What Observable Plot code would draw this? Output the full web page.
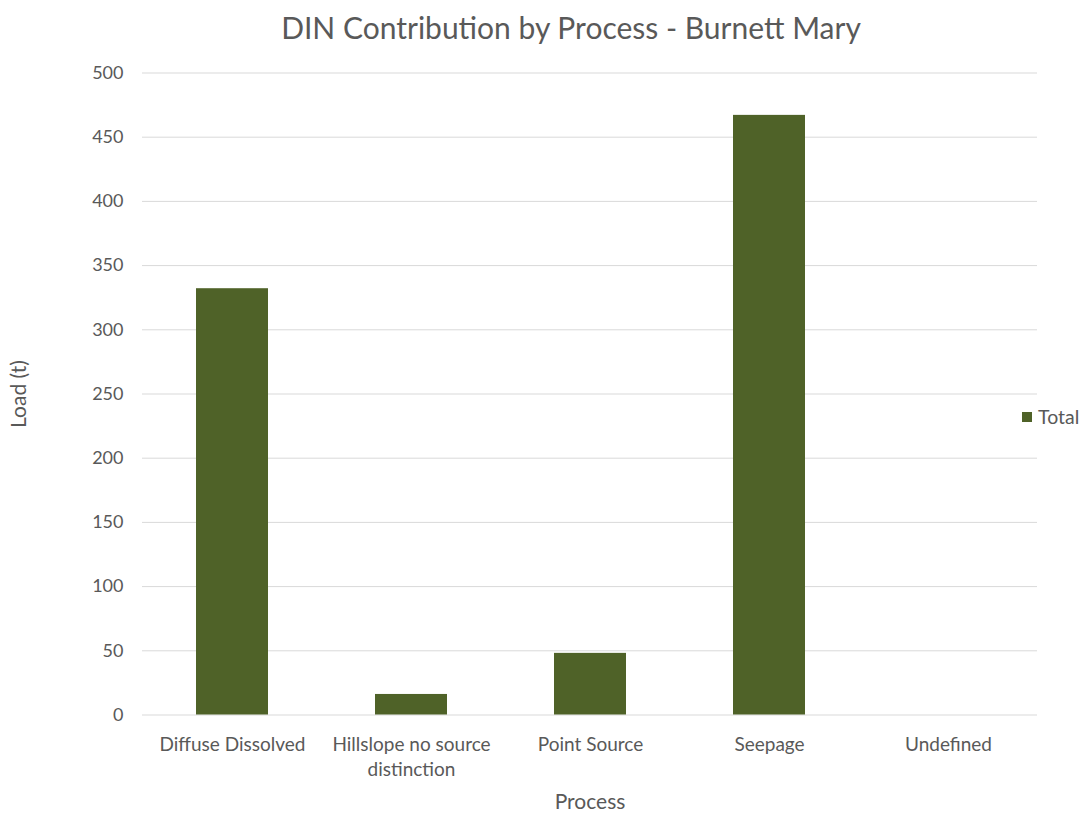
<!DOCTYPE html>
<html>
<head>
<meta charset="utf-8">
<script src="https://cdn.jsdelivr.net/npm/d3@7"></script>
<script src="https://cdn.jsdelivr.net/npm/@observablehq/plot@0.6"></script>
<style>
  html, body { margin: 0; padding: 0; background: #ffffff; }
  #chart { position: relative; width: 1088px; height: 815px; font-family: Lato, "Open Sans", sans-serif; color: #595959; }
  #title { position: relative; left: 27px; height: 55px; line-height: 55px; text-align: center; font-size: 30px; color: #595959; }
  #legend { position: absolute; left: 1022px; top: 405px; display: flex; align-items: center; font-size: 19.5px; color: #595959; }
  #legend .swatch { width: 10px; height: 10px; margin-right: 6px; }
</style>
</head>
<body>
<div id="chart">
  <div id="title"></div>
  <div id="legend"></div>
</div>
<script>
// DIN load per process, Burnett Mary basin
const titleText = "DIN Contribution by Process - Burnett Mary";
const seriesName = "Total";
const categories = ["Diffuse Dissolved", "Hillslope no source distinction", "Point Source", "Seepage", "Undefined"];
const loads = [332, 16, 48, 467, 0];
const categoryLabels = ["Diffuse Dissolved", "Hillslope no source\ndistinction", "Point Source", "Seepage", "Undefined"];
const yTicks = [0, 50, 100, 150, 200, 250, 300, 350, 400, 450, 500];
const xTitle = "Process";
const yTitle = "Load (t)";

const barColor = "#4f6228";
const gridColor = "#d9d9d9";
const textColor = "#595959";

const data = categories.map((process, i) => ({process, load: loads[i]}));
const labelOf = new Map(categories.map((c, i) => [c, categoryLabels[i]]));

document.getElementById("title").textContent = titleText;

const chart = Plot.plot({
  width: 1088,
  height: 760,
  marginTop: 17.5,
  marginBottom: 100.5,
  marginLeft: 142,
  marginRight: 51,
  style: {fontFamily: "Lato, 'Open Sans', sans-serif", fontSize: "19px", color: textColor, background: "#ffffff"},
  x: {domain: categories, paddingInner: 0.6, paddingOuter: 0.3, label: null},
  y: {domain: [0, 500], label: null},
  marks: [
    Plot.gridY(yTicks, {stroke: gridColor, strokeOpacity: 1, strokeWidth: 1}),
    Plot.barY(data, {x: "process", y: "load", fill: barColor}),
    Plot.axisY(yTicks, {
      tickSize: 0, tickPadding: 19, fontSize: 18,
      label: yTitle, labelAnchor: "center", labelArrow: "none", labelOffset: 131
    }),
    Plot.axisX({
      tickSize: 0, tickPadding: 18, fontSize: 19, lineHeight: 1.32,
      tickFormat: (d) => labelOf.get(d),
      label: xTitle, labelAnchor: "center", labelArrow: "none", labelOffset: 94
    })
  ]
});
document.getElementById("chart").insertBefore(chart, document.getElementById("legend"));

// Enlarge the axis titles a little relative to the tick labels
for (const t of chart.querySelectorAll("g[aria-label='x-axis label'] text, g[aria-label='y-axis label'] text")) {
  t.setAttribute("font-size", "21");
}

const legend = document.getElementById("legend");
const sw = document.createElement("span");
sw.className = "swatch";
sw.style.background = barColor;
legend.appendChild(sw);
legend.appendChild(document.createTextNode(seriesName));
</script>
</body>
</html>
